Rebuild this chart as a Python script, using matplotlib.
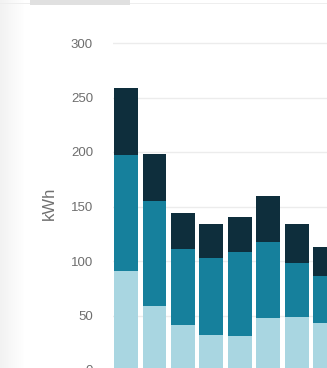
import numpy as np
import matplotlib
matplotlib.use("Agg")
import matplotlib.pyplot as plt
from matplotlib.patches import Rectangle

# Energieverbrauch pro Zeitraum (gestapelt)
periods = ["P1", "P2", "P3", "P4", "P5", "P6", "P7", "P8"]
base_kwh = [91, 59, 41, 32, 31, 48, 49, 43]
mid_kwh = [106, 96, 70, 71, 77, 69, 49, 43]
peak_kwh = [62, 43, 33, 31, 32, 43, 36, 27]

yticks = [0, 50, 100, 150, 200, 250, 300]

c_light = "#a9d6e1"
c_mid = "#16809c"
c_dark = "#0e2e3c"

W, H = 327, 368
fig = plt.figure(figsize=(W / 100, H / 100), dpi=100)
fig.patch.set_facecolor("white")

# leichter Schatten links und oben (Kartenrand)
grad = np.linspace(0.95, 1.0, 25)
shade = np.ones((H, 25, 3)) * grad[None, :, None]
fig.figimage(shade, xo=0, yo=0, zorder=0)
fig.add_artist(Rectangle((0, 1 - 4 / H), 1, 1.5 / H, transform=fig.transFigure,
                         color="#eeeeee", lw=0, zorder=1))
fig.add_artist(Rectangle((30 / W, 1 - 5 / H), 100 / W, 5 / H, transform=fig.transFigure,
                         color="#e0e0e0", lw=0, zorder=1))

# Achsenposition in Pixeln
left_px, right_px = 113, W
y0_px, ytop = 370, 305
px_per_unit = 1.09
top_px = y0_px - ytop * px_per_unit
ax = fig.add_axes([left_px / W, (H - y0_px) / H,
                   (right_px - left_px) / W, (y0_px - top_px) / H])
ax.patch.set_alpha(0)

x = np.arange(len(periods))
width = 0.84
ax.bar(x, base_kwh, width, color=c_light, zorder=3)
ax.bar(x, mid_kwh, width, bottom=base_kwh, color=c_mid, zorder=3)
bottom2 = np.array(base_kwh) + np.array(mid_kwh)
ax.bar(x, peak_kwh, width, bottom=bottom2, color=c_dark, zorder=3)

spacing = 28.45
ax.set_xlim((left_px - 126) / spacing, (right_px - 126) / spacing)
ax.set_ylim(0, ytop)
ax.set_yticks(yticks)
ax.set_xticks([])
ax.grid(axis="y", color="#ececec", linewidth=1, zorder=0)
for s in ax.spines.values():
    s.set_visible(False)
ax.tick_params(axis="y", length=0, pad=14.4, labelsize=9.5, labelcolor="#6e6e6e")
for lab in ax.get_yticklabels():
    lab.set_fontfamily("Liberation Sans")

ax.set_ylabel("kWh", fontsize=12, color="#707070", family="Liberation Sans")
ax.yaxis.set_label_coords((57 - left_px) / (right_px - left_px), 0.5)

fig.savefig("out.png", dpi=100)
